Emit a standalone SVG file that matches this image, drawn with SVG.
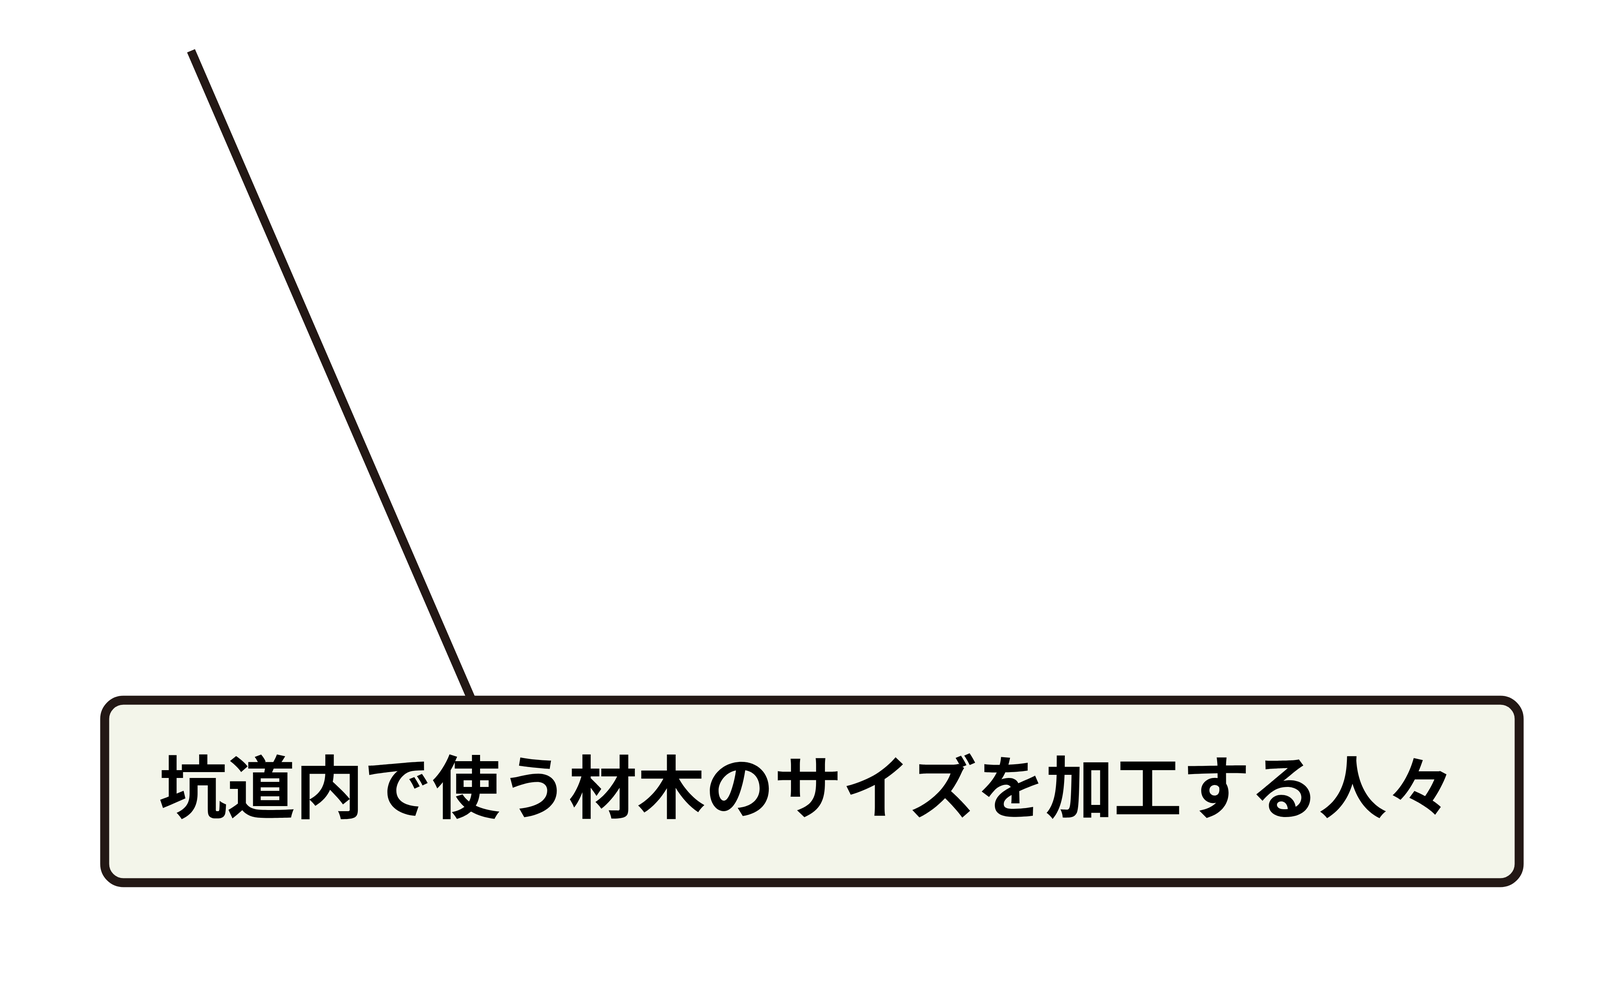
<svg xmlns="http://www.w3.org/2000/svg" width="4208" height="2526" viewBox="0 0 4208 2526">
  <style>
    .conn { fill: none; stroke: #231815; stroke-width: 22; stroke-linecap: butt; }
    .box { fill: #f3f5ea; stroke: #231815; stroke-width: 23; }
    .label { font-family: "Noto Sans CJK JP", "Noto Sans CJK SC", sans-serif; font-weight: 700; font-size: 175px; fill: #000000; text-anchor: middle; }
  </style>
  <rect width="4208" height="2526" fill="#ffffff"/>
  <g id="connectors">
    <line class="conn" x1="489" y1="130" x2="1208" y2="1792"/>
  </g>
  <g id="node-workers">
    <rect class="box" x="268" y="1792" width="3621" height="467" rx="48" ry="48"/>
    <text class="label" x="2066" y="2080">坑道内で使う材木のサイズを加工する人々</text>
  </g>
</svg>
